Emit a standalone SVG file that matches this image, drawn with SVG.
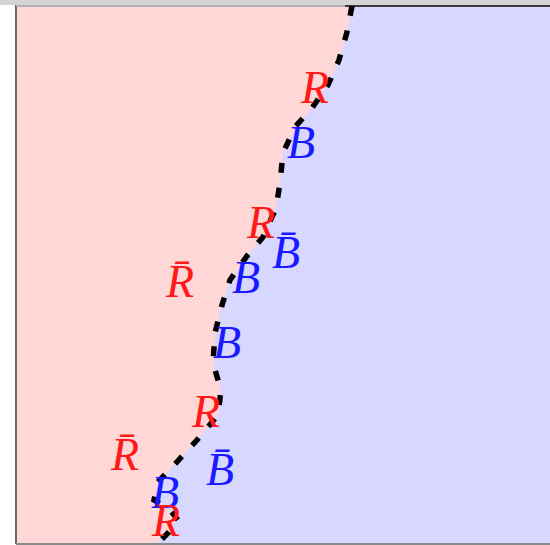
<svg xmlns="http://www.w3.org/2000/svg" width="550" height="545" viewBox="0 0 550 545">
<style>
.lbl{font-family:"Liberation Serif","DejaVu Serif",serif;font-style:italic;font-size:46px;text-anchor:middle}
.r{fill:#ff1a1a}
.b{fill:#1a1aff}
</style>
<rect x="0" y="0" width="550" height="545" fill="#ffffff"/>
<rect x="0" y="0" width="550" height="5" fill="#d4d4d4"/>
<g id="regions">
<rect id="blue-region" x="16" y="6" width="540" height="538" fill="#d7d7ff"/>
<path id="red-region" d="M16,6 L352,6 L347,32 L339,60 L328,85 L312,108 L295,127 L283,153 L280,183 L276,208 L263,237 L247,256 L230,280 L222,305 L215,333 L213,363 L221,390 L218,415 L197,440 L176,463 L158,482 L154,500 L170,510 L178,520 L168,533 L155,544 L16,544 Z" fill="#ffd7d7"/>
</g>
<g id="frame" fill="none">
<line x1="16" y1="5" x2="16" y2="544" stroke="#6a6a6a" stroke-width="2"/>
<line x1="16" y1="6" x2="345" y2="6" stroke="#b0b0b0" stroke-width="2"/>
<line x1="345" y1="6" x2="550" y2="6" stroke="#3a3a3a" stroke-width="2"/>
<line x1="16" y1="544" x2="550" y2="544" stroke="#8a8a8a" stroke-width="2"/>
</g>
<g id="connectors">
<path id="boundary" d="M352,6 L347,32 L339,60 L328,85 L312,108 L295,127 L283,153 L280,183 L276,208 L263,237 L247,256 L230,280 L222,305 L215,333 L213,363 L221,390 L218,415 L197,440 L176,463 L158,482 L154,500 L170,510 L178,520 L168,533 L155,546" fill="none" stroke="#000" stroke-width="5.5" stroke-dasharray="10 15"/>
</g>
<g id="labels">
<g id="n1"><text class="lbl r" x="315" y="103">R</text></g>
<g id="n2"><text class="lbl b" x="301" y="158">B</text></g>
<g id="n3"><text class="lbl r" x="261" y="238">R</text></g>
<g id="n4"><text class="lbl b" x="286" y="268">B̄</text></g>
<g id="n5"><text class="lbl b" x="246" y="293">B</text></g>
<g id="n6"><text class="lbl r" x="180" y="297">R̄</text></g>
<g id="n7"><text class="lbl b" x="227" y="358">B</text></g>
<g id="n8"><text class="lbl r" x="206" y="427">R</text></g>
<g id="n9"><text class="lbl r" x="125" y="470">R̄</text></g>
<g id="n10"><text class="lbl b" x="220" y="485">B̄</text></g>
<g id="n11"><text class="lbl b" x="165" y="508">B</text></g>
<g id="n12"><text class="lbl r" x="166" y="536">R</text></g>
</g>
</svg>
